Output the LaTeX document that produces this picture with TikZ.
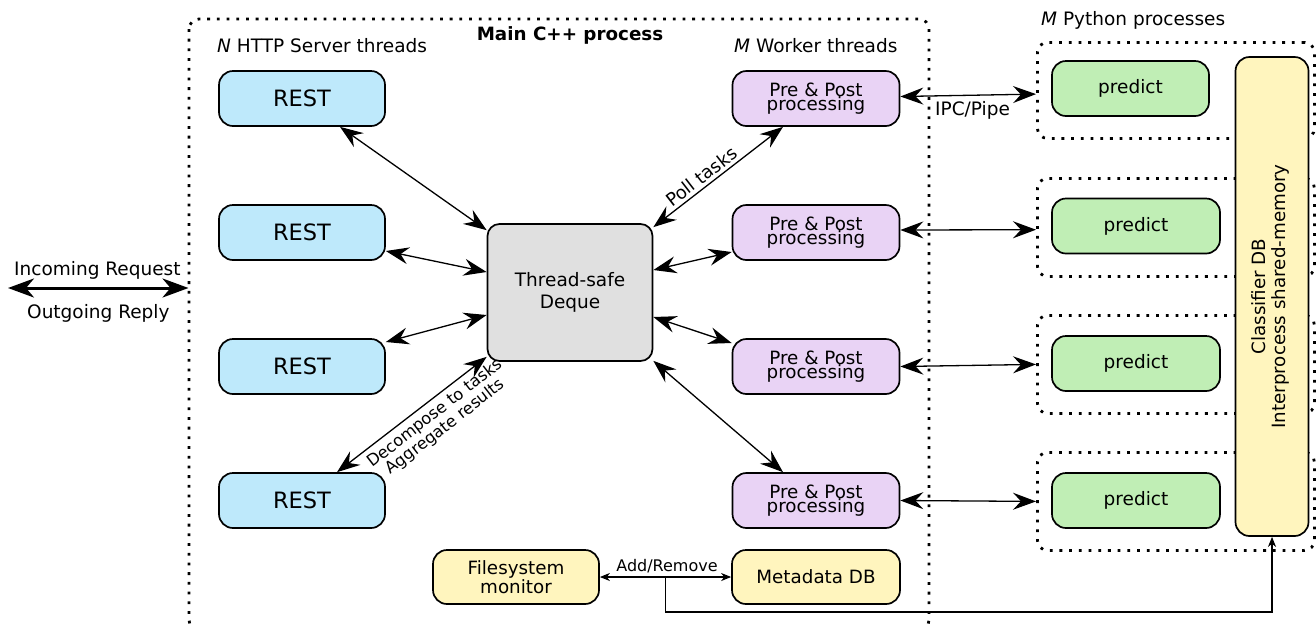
\documentclass[tikz,border=0pt]{standalone}
\usepackage{fontspec}
\setmainfont{DejaVu Sans}
\usetikzlibrary{arrows.meta,calc}
\definecolor{restblue}{RGB}{190,233,251}
\definecolor{workerpurple}{RGB}{233,211,245}
\definecolor{dequegrey}{RGB}{224,224,224}
\definecolor{predgreen}{RGB}{192,238,181}
\definecolor{dbyellow}{RGB}{255,245,190}
\tikzset{
  lbl/.style={inner sep=0pt, font=\fontsize{18.5}{22}\selectfont},
  rbox/.style={draw, line width=1.7pt, rounded corners=14pt, inner sep=0pt, align=center},
  rest/.style={rbox, fill=restblue, minimum width=166pt, minimum height=55pt, font=\fontsize{22.5}{27}\selectfont},
  worker/.style={rbox, fill=workerpurple, minimum width=167pt, minimum height=55pt, font=\fontsize{18.3}{14.5}\selectfont},
  pred/.style={rbox, fill=predgreen, minimum height=55pt, font=\fontsize{18.5}{22}\selectfont},
  ybox/.style={rbox, fill=dbyellow, font=\fontsize{18.3}{15}\selectfont},
  dotbox/.style={draw, line width=2.8pt, dash pattern=on 2.8pt off 6.9pt, rounded corners=10pt},
  dbl/.style={line width=1.3pt, {Stealth[length=23pt,width=17pt,inset=8pt]}-{Stealth[length=23pt,width=17pt,inset=8pt]}},
  thick dbl/.style={line width=3pt, {Stealth[length=26pt,width=19pt,inset=8pt]}-{Stealth[length=26pt,width=19pt,inset=8pt]}},
  sdbl/.style={line width=1.2pt, {Stealth[length=10pt,width=8pt,inset=3pt]}-{Stealth[length=10pt,width=8pt,inset=3pt]}},
  sarr/.style={line width=1.2pt, -{Stealth[length=10pt,width=8pt,inset=3pt]}},
}
\begin{document}
\begin{tikzpicture}[x=1pt,y=-1pt]
\useasboundingbox (0,0) rectangle (1316,625);

% containers
\draw[dotbox] (189,19) rectangle (929,630);
\node[dotbox, minimum width=277pt, minimum height=96pt, anchor=north west] (py1) at (1036,41) {};
\node[dotbox, minimum width=277pt, minimum height=98pt, anchor=north west] (py2) at (1036,177) {};
\node[dotbox, minimum width=277pt, minimum height=98pt, anchor=north west] (py3) at (1036,314) {};
\node[dotbox, minimum width=277pt, minimum height=98pt, anchor=north west] (py4) at (1036,451) {};

% titles
\node[lbl, anchor=base west] (thttp) at (217,52) {\textit{N} HTTP Server threads};
\node[lbl, anchor=base, font=\fontsize{18.3}{21}\selectfont\bfseries] (tmain) at (570,40) {Main C++ process};
\node[lbl, anchor=base west] (twork) at (734,52) {\textit{M} Worker threads};
\node[lbl, anchor=base west] (tpy) at (1041,25) {\textit{M} Python processes};

% REST
\node[rest] (r1) at (302,98.5) {REST};
\node[rest] (r2) at (302,232.5) {REST};
\node[rest] (r3) at (302,366.5) {REST};
\node[rest] (r4) at (302,500.5) {REST};

% deque
\node[rbox, fill=dequegrey, rounded corners=12pt, minimum width=165pt, minimum height=137pt,
      font=\fontsize{18.5}{22}\selectfont] (dq) at (570,292.5) {Thread-safe\\Deque};

% workers
\node[worker] (w1) at (816,98.5) {Pre \& Post\\processing};
\node[worker] (w2) at (816,232.5) {Pre \& Post\\processing};
\node[worker] (w3) at (816,366.5) {Pre \& Post\\processing};
\node[worker] (w4) at (816,500.5) {Pre \& Post\\processing};

% predict
\node[pred, minimum width=157pt] (p1) at (1130.5,88.5) {predict};
\node[pred, minimum width=168pt] (p2) at (1136,226) {predict};
\node[pred, minimum width=168pt] (p3) at (1136,363.5) {predict};
\node[pred, minimum width=168pt] (p4) at (1136,500.5) {predict};

% classifier DB
\node[ybox, minimum width=73pt, minimum height=479pt] (cls) at (1272,296.5) {};
\node[rotate=90, align=center, inner sep=0pt, font=\fontsize{18.3}{20}\selectfont] (clstxt) at (1270,296.5) {Classifier DB\\Interprocess shared-memory};

% filesystem / metadata
\node[ybox, minimum width=166pt, minimum height=54pt] (fs) at (516,577) {Filesystem\\monitor};
\node[ybox, minimum width=168pt, minimum height=54pt, font=\fontsize{18.3}{22}\selectfont] (md) at (816,577) {Metadata DB};

% incoming / outgoing
\coordinate (extL) at (8,288);
\coordinate (extR) at (188.5,288);
\draw[thick dbl] (extL) -- (extR);
\node[lbl, anchor=base west] (tin) at (14,275) {Incoming Request};
\node[lbl, anchor=base west] (tout) at (27,318) {Outgoing Reply};

% REST <-> deque
\draw[dbl] ([xshift=38pt]r1.south) -- ([yshift=-7pt]dq.north west);
\draw[dbl] ([yshift=-18.5pt]r2.east) -- ([yshift=20.5pt]dq.west);
\draw[dbl] ([yshift=24.5pt]r3.east) -- ([yshift=-22.5pt]dq.west);
\draw[dbl] ([xshift=35pt]r4.north) -- node[pos=0.6, sloped, below=5pt, align=center, inner sep=0pt,
   font=\fontsize{16.3}{17}\selectfont] (tdec) {Decompose to tasks\\Aggregate results} ([yshift=5pt]dq.south west);

% deque <-> workers
\draw[dbl] ([yshift=-4pt]dq.north east) -- node[pos=0.42, sloped, above=3pt, inner sep=0pt,
   font=\fontsize{18}{20}\selectfont] (tpoll) {Poll tasks} ([xshift=-33pt]w1.south);
\draw[dbl] ([yshift=22.5pt]dq.east) -- ([yshift=-19.5pt]w2.west);
\draw[dbl] ([yshift=-24.5pt]dq.east) -- ([yshift=23.5pt]w3.west);
\draw[dbl] ([yshift=1pt]dq.south east) -- ([xshift=-33pt]w4.north);

% workers <-> python processes
\draw[dbl] ([yshift=2pt]w1.east) -- ([yshift=-3.7pt]py1.west);
\draw[dbl] ([yshift=2.5pt]w2.east) -- ([yshift=-2.3pt]py2.west);
\draw[dbl] (w3.east) -- (py3.west);
\draw[dbl] (w4.east) -- (py4.west);
\node[lbl, anchor=base west] (tipc) at (935,115) {IPC/Pipe};

% filesystem <-> metadata, branch to classifier
\draw[sdbl] (fs.east) -- (md.west);
\node[lbl, anchor=base, font=\fontsize{16}{18}\selectfont] (tadd) at (667,571) {Add/Remove};
\coordinate (br) at ($(fs.east)!0.5!(md.west)$);
\coordinate (bot) at ($(br)+(0,35)$);
\draw[sarr] (br) -- (bot) -| (cls.south);
\end{tikzpicture}
\end{document}
